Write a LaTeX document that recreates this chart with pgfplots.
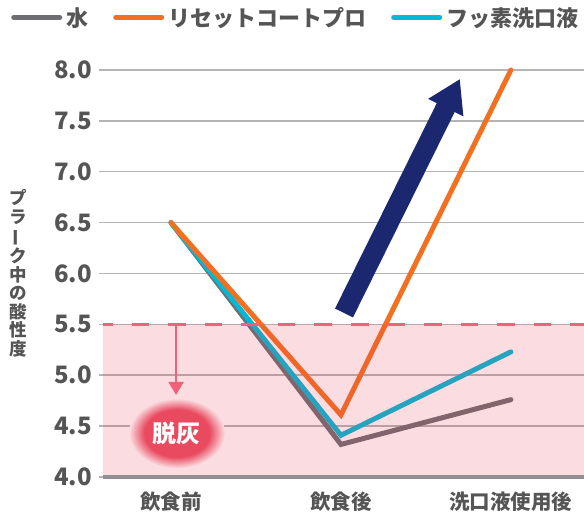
\documentclass[border=0pt]{standalone}
\usepackage{fontspec}
\setmainfont{Noto Sans CJK JP}
\usepackage{graphicx}
\usepackage{pgfplots}
\pgfplotsset{compat=1.18}
\usetikzlibrary{arrows.meta}
\definecolor{txt}{HTML}{555555}
\definecolor{cgray}{HTML}{6E6E73}
\definecolor{corange}{HTML}{F37021}
\definecolor{ccyan}{HTML}{00B9D6}
\definecolor{band}{HTML}{E7374E}
\definecolor{dashc}{HTML}{F0627A}
\definecolor{navyc}{HTML}{1B2870}
\definecolor{gridc}{HTML}{B4B4B4}
\definecolor{basec}{HTML}{938E91}
\definecolor{blobc}{HTML}{E94A60}
\definecolor{pinkbg}{HTML}{FBDDE1}
\pgfdeclareradialshading{blobshade}{\pgfpoint{0bp}{0bp}}{color(0bp)=(blobc); color(17bp)=(blobc); color(25bp)=(pinkbg); color(50bp)=(pinkbg)}
\begin{document}
\begin{tikzpicture}
\begin{axis}[
  scale only axis, width=481pt, height=407pt,
  xmin=-0.4, xmax=2.43, ymin=4, ymax=8,
  clip=false,
  axis line style={draw=none},
  xtick={0,1,2}, xticklabels={飲食前,飲食後,洗口液使用後},
  ytick={4,4.5,5,5.5,6,6.5,7,7.5,8},
  /pgf/number format/assume math mode=true,
  yticklabel style={/pgf/number format/fixed, /pgf/number format/fixed zerofill, /pgf/number format/precision=1, font=\fontsize{24}{24}\selectfont\bfseries, text=txt, inner sep=0pt, xshift=-7pt},
  ymajorgrids, major grid style={gridc, line width=1.5pt},
  major x tick style={draw=none},
  major y tick style={gridc, line width=1.5pt},
  tick align=outside, major tick length=4pt,
  xticklabel style={font=\fontsize{20.5}{20.5}\selectfont\bfseries, text=txt, inner sep=0pt, yshift=-11pt},
  every axis y label/.style={at={(axis description cs:0,0.5)}, anchor=center, xshift=-85pt, align=center, font=\fontsize{17.5}{18.6}\selectfont\bfseries, text=txt},
  ylabel={プ\\ラ\\\rotatebox[origin=c]{90}{ー}\\ク\\中\\の\\酸\\性\\度},
  legend style={at={(axis description cs:0,1)}, anchor=north west, xshift=-92pt, yshift=63pt,
    draw=none, fill=none, font=\fontsize{22}{22}\selectfont\bfseries, text=txt,
    inner sep=0pt, nodes={inner sep=0pt},
    /tikz/every odd column/.append style={column sep=4pt},
    /tikz/every even column/.append style={column sep=25pt}},
  legend columns=3,
  legend image code/.code={\draw[line width=5pt, line cap=round, #1] (0pt,0pt) -- (46pt,0pt);},
]
\coordinate (SW) at (rel axis cs:0,0);
\coordinate (NE) at (rel axis cs:1,1);
\addlegendimage{cgray}
\addlegendimage{corange}
\addlegendimage{ccyan}
\legend{水,リセットコートプロ,フッ素洗口液}
% series
\addplot[cgray, line width=5pt, line cap=round, forget plot] coordinates {(0,6.5) (1,4.32) (2,4.76)};
\addplot[ccyan, line width=5pt, line cap=round, forget plot] coordinates {(0,6.5) (1,4.41) (2,5.23)};
\addplot[corange, line width=5pt, line cap=round, forget plot] coordinates {(0,6.5) (1,4.61) (2,8.0)};
% demineralisation band
\addplot[draw=none, fill=band, fill opacity=0.17, forget plot] coordinates {(-0.4,4) (2.43,4) (2.43,5.5) (-0.4,5.5) (-0.4,4)};
\addplot[dashc, line width=3pt, dash pattern=on 17.5pt off 19pt, dash phase=7.5pt, forget plot] coordinates {(-0.4,5.5) (2.43,5.5)};
\addplot[basec, line width=3.5pt, forget plot] coordinates {(-0.4,4) (2.43,4)};
% annotations
\draw[dashc, line width=2pt, -{Triangle[length=13pt,width=15pt]}] (axis cs:0.03,5.5) -- (axis cs:0.03,4.806);
\shade[shading=blobshade] (axis cs:0.035,4.43) ellipse [x radius=48pt, y radius=35pt];
\node[text=white, font=\fontsize{24}{24}\selectfont\bfseries] at (axis cs:0.035,4.43) {脱灰};
\draw[navyc, line width=20pt, -{Triangle[length=32pt, width=37pt]}] (axis cs:1.018,5.612) -- (axis cs:1.7,7.912);
\end{axis}
\pgfresetboundingbox
\path ([xshift=-103pt,yshift=-36pt]SW) rectangle ([yshift=70pt]NE);
\end{tikzpicture}
\end{document}
